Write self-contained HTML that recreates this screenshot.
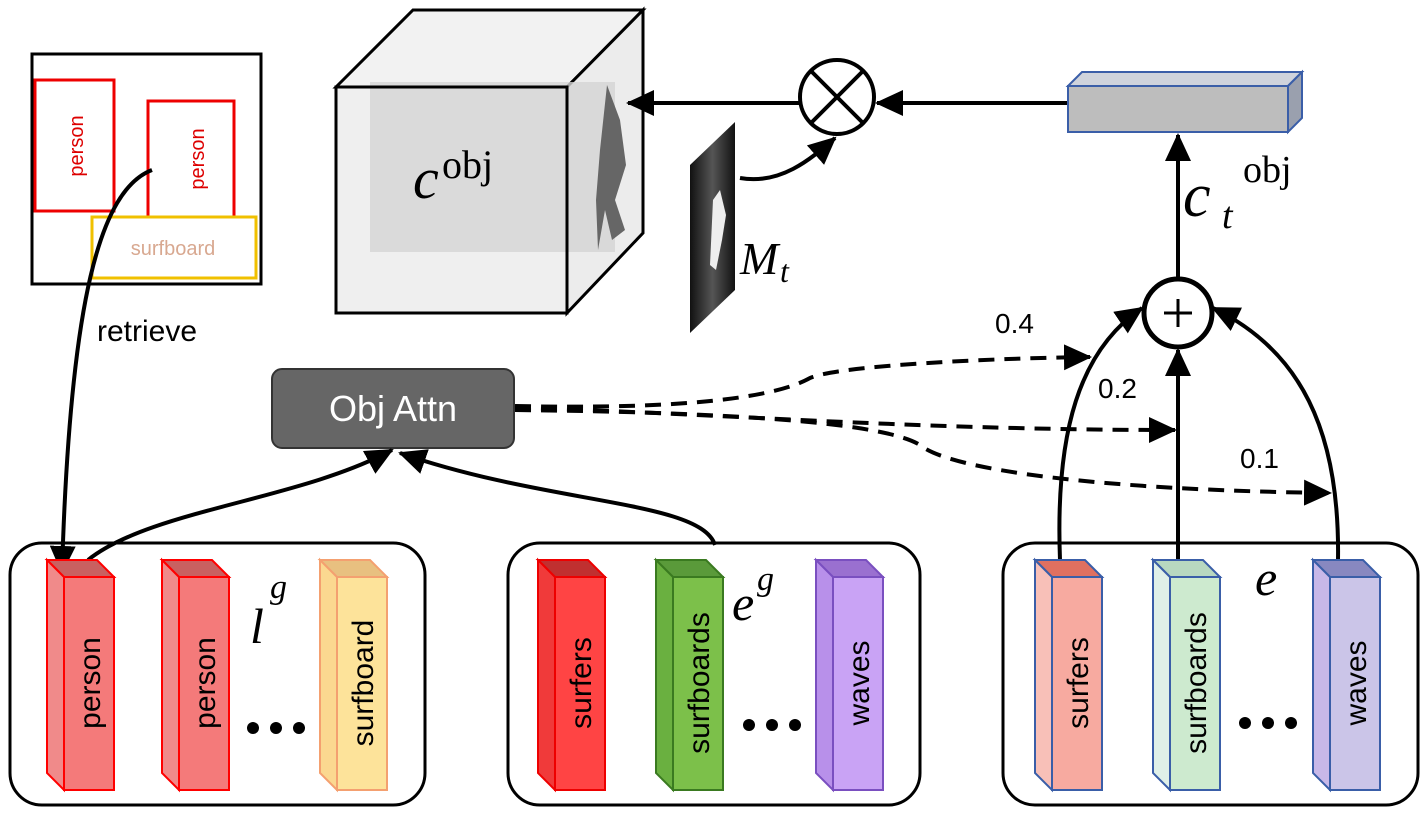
<!DOCTYPE html>
<html><head><meta charset="utf-8"><style>html,body{margin:0;padding:0;background:#fff}svg{display:block}</style></head>
<body>
<svg width="1428" height="822" viewBox="0 0 1428 822" xmlns="http://www.w3.org/2000/svg" font-family="Liberation Sans, sans-serif">
<defs>
<marker id="ab" markerWidth="28" markerHeight="26" refX="26" refY="13" orient="auto" markerUnits="userSpaceOnUse" viewBox="0 0 28 26"><path d="M0,0 L28,13 L0,26 z" fill="#000"/></marker>
<linearGradient id="mg" x1="0" x2="1"><stop offset="0" stop-color="#111"/><stop offset="0.5" stop-color="#555"/><stop offset="1" stop-color="#111"/></linearGradient>
</defs>

<rect x="32" y="54" width="229" height="230" fill="#fff" stroke="#000" stroke-width="3"/>
<rect x="35" y="80" width="79" height="131" fill="none" stroke="#e00" stroke-width="3"/>
<rect x="148" y="101" width="86" height="116" fill="none" stroke="#e00" stroke-width="3"/>
<rect x="92" y="217" width="164" height="61" fill="none" stroke="#f0c000" stroke-width="3"/>
<text transform="translate(83,146) rotate(-90)" text-anchor="middle" font-size="20" fill="#d00">person</text>
<text transform="translate(204,159) rotate(-90)" text-anchor="middle" font-size="20" fill="#d00">person</text>
<text x="173" y="255" text-anchor="middle" font-size="20" fill="#d8a890">surfboard</text>
<text x="97" y="341" font-size="30" fill="#000">retrieve</text>

<polygon points="336,87 413,10 643,10 567,87" fill="#f2f2f2" stroke="#000" stroke-width="3"/>
<polygon points="567,87 643,10 643,233 567,313" fill="#ececec" stroke="#000" stroke-width="3"/>
<rect x="336" y="87" width="231" height="226" fill="#efefef" stroke="#000" stroke-width="3"/>
<rect x="370" y="82" width="245" height="170" fill="#d4d4d4" opacity="0.8"/>
<rect x="336" y="87" width="231" height="226" fill="none" stroke="#000" stroke-width="3"/>
<path d="M607,85 L620,120 L626,165 L615,200 L625,230 L612,240 L605,210 L598,250 L596,200 L600,150 Z" fill="#666"/>
<text x="413" y="198" font-family="Liberation Serif, serif" font-style="italic" font-size="58">c</text>
<text x="442" y="178" font-family="Liberation Serif, serif" font-size="40">obj</text>

<line x1="800" y1="103" x2="628" y2="103" stroke="#000" stroke-width="4" marker-end="url(#ab)"/>
<circle cx="837" cy="97" r="37" fill="#fff" stroke="#000" stroke-width="4"/>
<line x1="811" y1="71" x2="863" y2="123" stroke="#000" stroke-width="4"/>
<line x1="863" y1="71" x2="811" y2="123" stroke="#000" stroke-width="4"/>
<line x1="1068" y1="103" x2="877" y2="103" stroke="#000" stroke-width="4" marker-end="url(#ab)"/>

<polygon points="1068,86 1082,72 1302,72 1288,86" fill="#cfd3dc" stroke="#3a5ea8" stroke-width="2"/>
<polygon points="1288,86 1302,72 1302,118 1288,132" fill="#9aa0ae" stroke="#3a5ea8" stroke-width="2"/>
<rect x="1068" y="86" width="220" height="46" fill="#bdbdbd" stroke="#3a5ea8" stroke-width="2"/>

<polygon points="690,165 735,122 735,290 690,333" fill="url(#mg)"/>
<path d="M713,200 L720,190 L726,215 L722,240 L716,270 L710,265 Z" fill="#eee"/>
<path d="M740,178 C780,185 810,160 835,138" fill="none" stroke="#000" stroke-width="4" marker-end="url(#ab)"/>
<text x="740" y="274" font-family="Liberation Serif, serif" font-style="italic" font-size="46">M</text>
<text x="780" y="282" font-family="Liberation Serif, serif" font-style="italic" font-size="32">t</text>

<text x="1183" y="216" font-family="Liberation Serif, serif" font-style="italic" font-size="62">c</text>
<text x="1222" y="228" font-family="Liberation Serif, serif" font-style="italic" font-size="38">t</text>
<text x="1243" y="182" font-family="Liberation Serif, serif" font-size="38">obj</text>

<line x1="1178" y1="278" x2="1178" y2="135" stroke="#000" stroke-width="4" marker-end="url(#ab)"/>
<circle cx="1178" cy="313" r="34" fill="#fff" stroke="#000" stroke-width="5"/>
<line x1="1164" y1="313" x2="1192" y2="313" stroke="#000" stroke-width="3"/>
<line x1="1178" y1="299" x2="1178" y2="327" stroke="#000" stroke-width="3"/>
<path d="M1060,560 C1055,430 1080,350 1142,308" fill="none" stroke="#000" stroke-width="4" marker-end="url(#ab)"/>
<line x1="1178" y1="560" x2="1178" y2="350" stroke="#000" stroke-width="4" marker-end="url(#ab)"/>
<path d="M1338,560 C1340,430 1300,350 1213,308" fill="none" stroke="#000" stroke-width="4" marker-end="url(#ab)"/>

<g fill="none" stroke="#000" stroke-width="4" stroke-dasharray="16,10">
<path d="M515,406 C700,410 780,395 810,378 C840,365 1000,358 1090,357" marker-end="url(#ab)"/>
<path d="M515,408 C700,412 900,430 1175,430" marker-end="url(#ab)"/>
<path d="M515,410 C700,412 880,420 920,445 C950,470 1100,490 1330,493" marker-end="url(#ab)"/>
</g>
<text x="995" y="333" font-size="28">0.4</text>
<text x="1098" y="398" font-size="28">0.2</text>
<text x="1240" y="468" font-size="28">0.1</text>

<rect x="272" y="369" width="242" height="79" rx="10" fill="#666" stroke="#333" stroke-width="2"/>
<text x="393" y="421" text-anchor="middle" font-size="36" fill="#fff">Obj Attn</text>

<path d="M152,170 C100,190 70,300 62,572" fill="none" stroke="#000" stroke-width="4" marker-end="url(#ab)"/>
<path d="M88,560 C150,510 300,500 392,450" fill="none" stroke="#000" stroke-width="4" marker-end="url(#ab)"/>
<path d="M715,545 C700,500 550,505 400,453" fill="none" stroke="#000" stroke-width="4" marker-end="url(#ab)"/>

<rect x="10" y="543" width="415" height="262" rx="32" fill="none" stroke="#000" stroke-width="3"/>
<rect x="508" y="543" width="412" height="262" rx="32" fill="none" stroke="#000" stroke-width="3"/>
<rect x="1003" y="543" width="415" height="262" rx="32" fill="none" stroke="#000" stroke-width="3"/>

<g font-size="30" fill="#000">
<g transform="translate(47,0)" stroke="#f00" stroke-width="2"><polygon points="0,560 50,560 67,577 17,577" fill="#c96060"/><polygon points="0,560 17,577 17,790 0,773" fill="#f08a8a"/><rect x="17" y="577" width="50" height="213" fill="#f47a7a"/><text transform="translate(53,683) rotate(-90)" text-anchor="middle" stroke="none">person</text></g>
<g transform="translate(162,0)" stroke="#f00" stroke-width="2"><polygon points="0,560 50,560 67,577 17,577" fill="#c96060"/><polygon points="0,560 17,577 17,790 0,773" fill="#f08a8a"/><rect x="17" y="577" width="50" height="213" fill="#f47a7a"/><text transform="translate(53,683) rotate(-90)" text-anchor="middle" stroke="none">person</text></g>
<g transform="translate(320,0)" stroke="#f4a070" stroke-width="2"><polygon points="0,560 50,560 67,577 17,577" fill="#e8c080"/><polygon points="0,560 17,577 17,790 0,773" fill="#fbd890"/><rect x="17" y="577" width="50" height="213" fill="#fde39a"/><text transform="translate(53,683) rotate(-90)" text-anchor="middle" stroke="none">surfboard</text></g>
<g transform="translate(538,0)" stroke="#e00" stroke-width="2"><polygon points="0,560 50,560 67,577 17,577" fill="#c03030"/><polygon points="0,560 17,577 17,790 0,773" fill="#f03a3a"/><rect x="17" y="577" width="50" height="213" fill="#f44"/><text transform="translate(53,683) rotate(-90)" text-anchor="middle" stroke="none">surfers</text></g>
<g transform="translate(656,0)" stroke="#3a7a20" stroke-width="2"><polygon points="0,560 50,560 67,577 17,577" fill="#5a9a3a"/><polygon points="0,560 17,577 17,790 0,773" fill="#6ab040"/><rect x="17" y="577" width="50" height="213" fill="#7cc04a"/><text transform="translate(53,683) rotate(-90)" text-anchor="middle" stroke="none">surfboards</text></g>
<g transform="translate(816,0)" stroke="#7a4fc0" stroke-width="2"><polygon points="0,560 50,560 67,577 17,577" fill="#9a70d0"/><polygon points="0,560 17,577 17,790 0,773" fill="#b890ea"/><rect x="17" y="577" width="50" height="213" fill="#c9a3f5"/><text transform="translate(53,683) rotate(-90)" text-anchor="middle" stroke="none">waves</text></g>
<g transform="translate(1035,0)" stroke="#3a5ea8" stroke-width="2"><polygon points="0,560 50,560 67,577 17,577" fill="#e07060"/><polygon points="0,560 17,577 17,790 0,773" fill="#f8c0b8"/><rect x="17" y="577" width="50" height="213" fill="#f7aaa0"/><text transform="translate(53,683) rotate(-90)" text-anchor="middle" stroke="none">surfers</text></g>
<g transform="translate(1153,0)" stroke="#3a5ea8" stroke-width="2"><polygon points="0,560 50,560 67,577 17,577" fill="#b8d8c0"/><polygon points="0,560 17,577 17,790 0,773" fill="#e0f0e8"/><rect x="17" y="577" width="50" height="213" fill="#cdeacf"/><text transform="translate(53,683) rotate(-90)" text-anchor="middle" stroke="none">surfboards</text></g>
<g transform="translate(1313,0)" stroke="#3a5ea8" stroke-width="2"><polygon points="0,560 50,560 67,577 17,577" fill="#8888c0"/><polygon points="0,560 17,577 17,790 0,773" fill="#c8b8e8"/><rect x="17" y="577" width="50" height="213" fill="#cbc5e8"/><text transform="translate(53,683) rotate(-90)" text-anchor="middle" stroke="none">waves</text></g>
</g>

<g fill="#000">
<circle cx="253" cy="728" r="6"/><circle cx="276" cy="728" r="6"/><circle cx="299" cy="728" r="6"/>
<circle cx="749" cy="725" r="6"/><circle cx="772" cy="725" r="6"/><circle cx="795" cy="725" r="6"/>
<circle cx="1245" cy="723" r="6"/><circle cx="1268" cy="723" r="6"/><circle cx="1291" cy="723" r="6"/>
</g>

<text x="250" y="643" font-family="Liberation Serif, serif" font-style="italic" font-size="50">l</text>
<text x="270" y="598" font-family="Liberation Serif, serif" font-style="italic" font-size="34">g</text>
<text x="732" y="620" font-family="Liberation Serif, serif" font-style="italic" font-size="50">e</text>
<text x="757" y="590" font-family="Liberation Serif, serif" font-style="italic" font-size="34">g</text>
<text x="1255" y="595" font-family="Liberation Serif, serif" font-style="italic" font-size="50">e</text>
</svg>
</body></html>
